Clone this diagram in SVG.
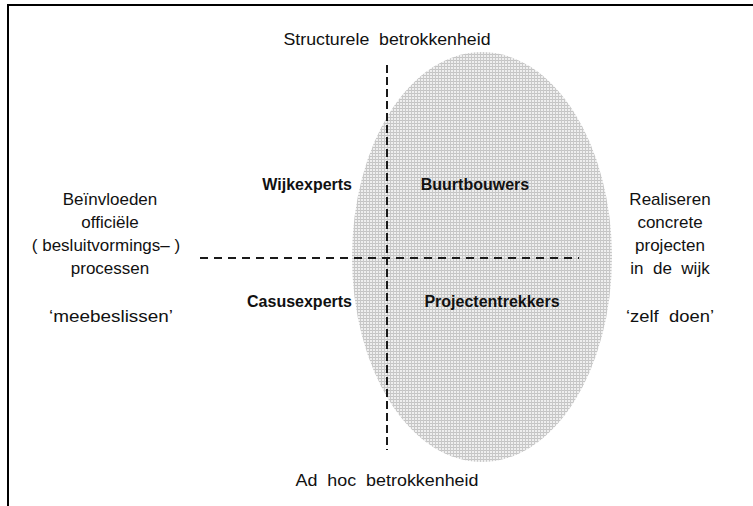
<svg xmlns="http://www.w3.org/2000/svg" width="753" height="506" viewBox="0 0 753 506">
<style>
.t{font-family:"Liberation Sans",Arial,sans-serif;font-size:17px;fill:#111;text-anchor:middle}
.b{font-family:"Liberation Sans",Arial,sans-serif;font-size:16px;font-weight:bold;fill:#111}
.d{stroke:#1a1a1a;stroke-width:2;fill:none}
</style>
<defs>
<pattern id="grid" width="3" height="3" patternUnits="userSpaceOnUse">
<rect width="3" height="3" fill="#efefef"/>
<rect width="3" height="1" fill="#c4c4c4"/>
<rect width="1" height="3" fill="#c9c9c9"/>
</pattern>
</defs>
<rect width="753" height="506" fill="#fff"/>
<g id="frame"><path d="M8,506 V5 H753" stroke="#000" stroke-width="2" fill="none"/></g>
<g id="ellipse"><ellipse cx="482" cy="257" rx="130" ry="205" fill="url(#grid)"/></g>
<g id="connectors">
<line class="d" x1="200" y1="258" x2="579" y2="258" stroke-dasharray="8 6"/>
<line class="d" x1="387" y1="65" x2="387" y2="450" stroke-dasharray="8 4"/>
</g>
<g id="axis-top"><text class="t" x="387" y="45" textLength="207" lengthAdjust="spacingAndGlyphs" xml:space="preserve">Structurele  betrokkenheid</text></g>
<g id="axis-bottom"><text class="t" x="387" y="486" textLength="183" lengthAdjust="spacingAndGlyphs" xml:space="preserve">Ad  hoc  betrokkenheid</text></g>
<g id="left">
<text class="t" x="110" y="205">Beïnvloeden</text>
<text class="t" x="110" y="228">officiële</text>
<text class="t" x="106" y="251" xml:space="preserve">( besluitvormings– )</text>
<text class="t" x="110" y="274">processen</text>
<text class="t" x="111" y="322" textLength="124" lengthAdjust="spacingAndGlyphs">‘meebeslissen’</text>
</g>
<g id="right">
<text class="t" x="670" y="205">Realiseren</text>
<text class="t" x="670" y="228">concrete</text>
<text class="t" x="670" y="251">projecten</text>
<text class="t" x="670" y="274" xml:space="preserve">in  de  wijk</text>
<text class="t" x="670" y="322" textLength="88" lengthAdjust="spacingAndGlyphs" xml:space="preserve">‘zelf  doen’</text>
</g>
<g id="wijkexperts"><text class="b" x="352" y="190" text-anchor="end">Wijkexperts</text></g>
<g id="buurtbouwers"><text class="b" x="475" y="190" text-anchor="middle">Buurtbouwers</text></g>
<g id="casusexperts"><text class="b" x="352" y="307" text-anchor="end">Casusexperts</text></g>
<g id="projectentrekkers"><text class="b" x="492" y="307" text-anchor="middle">Projectentrekkers</text></g>
</svg>
